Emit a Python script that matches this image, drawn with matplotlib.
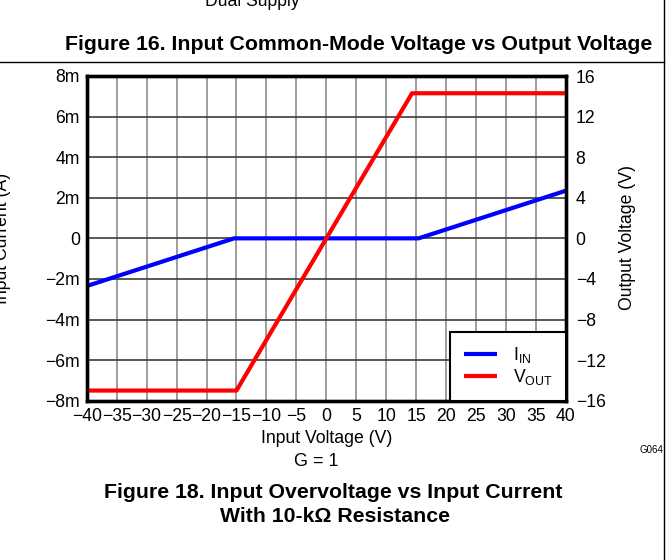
import matplotlib
matplotlib.use("Agg")
import matplotlib.pyplot as plt
from matplotlib.lines import Line2D

plt.rcParams['font.family'] = ['Liberation Sans', 'DejaVu Sans']
plt.rcParams['mathtext.fontset'] = 'custom'
plt.rcParams['mathtext.rm'] = 'Liberation Sans'
plt.rcParams['mathtext.it'] = 'Liberation Sans:italic'

# values
vin_iin = [-40, -15.4, 15.4, 40]
iin = [-2.35e-3, 0, 0, 2.35e-3]
vin_vout = [-40, -15, 14.3, 40]
vout = [-15, -15, 14.3, 14.3]

xticks = list(range(-40, 41, 5))
iticks = [-8e-3, -6e-3, -4e-3, -2e-3, 0, 2e-3, 4e-3, 6e-3, 8e-3]
ilabels = ["\u22128m", "\u22126m", "\u22124m", "\u22122m", "0", "2m", "4m", "6m", "8m"]
vticks = [-16, -12, -8, -4, 0, 4, 8, 12, 16]

W, H = 669, 560
fig = plt.figure(figsize=(W / 100, H / 100), dpi=100)
ax = fig.add_axes([86.7 / W, 1 - 400.7 / H, (566 - 86.7) / W, (400.7 - 76) / H])
ax2 = ax.twinx()

fs = 12.7
ax.plot(vin_iin, iin, color="#0000ff", lw=3, solid_capstyle="butt", label=r"I$_{\mathrm{IN}}$")
ax2.plot(vin_vout, vout, color="#ff0000", lw=3, solid_capstyle="butt", label=r"V$_{\mathrm{OUT}}$")

ax.set_xlim(-40, 40)
ax.set_ylim(-8e-3, 8e-3)
ax2.set_ylim(-16, 16)
ax.set_xticks(xticks)
ax.set_xticklabels([str(v).replace("-", "\u2212") for v in xticks])
ax.set_yticks(iticks)
ax.set_yticklabels(ilabels)
ax2.set_yticks(vticks)
ax2.set_yticklabels([str(v).replace("-", "\u2212") for v in vticks])

ax.tick_params(axis="both", length=0, labelsize=fs)
ax.tick_params(axis="x", pad=5)
ax.tick_params(axis="y", pad=5)
ax2.tick_params(axis="y", length=0, labelsize=fs, pad=7)

ax.xaxis.grid(True, color="#8c8c8c", lw=1.2)
ax.yaxis.grid(True, color="#3c3c3c", lw=1.2)
ax.set_axisbelow(True)
for a in (ax, ax2):
    for s in a.spines.values():
        s.set_linewidth(2.4)
        s.set_color("black")

ax.set_xlabel("Input Voltage (V)", fontsize=fs, labelpad=4)
fig.text(3 / W, 1 - 238 / H, "Input Current (A)", rotation=90, fontsize=fs,
         ha="center", va="center")
fig.text(627 / W, 1 - 238 / H, "Output Voltage (V)", rotation=90, fontsize=fs,
         ha="center", va="center")

h1, l1 = ax.get_legend_handles_labels()
h2, l2 = ax2.get_legend_handles_labels()
leg = ax2.legend(h1 + h2, l1 + l2, loc="lower right", borderaxespad=0,
                 fancybox=False, framealpha=1, edgecolor="black", fontsize=fs,
                 handlelength=1.9, handletextpad=0.9, labelspacing=0.12,
                 borderpad=0.75)
leg.get_frame().set_linewidth(1.5)

fig.text(252 / W, 1 - 1 / H, "Dual Supply", fontsize=fs, ha="center", va="center")
fig.text(652 / W, 1 - 45 / H, "Figure 16. Input Common-Mode Voltage vs Output Voltage",
         fontsize=15.3, fontweight="bold", ha="right", va="center")
fig.text(316 / W, 1 - 461 / H, "G = 1", fontsize=13, ha="center", va="center")
fig.text(663 / W, 1 - 450 / H, "G064", fontsize=7, ha="right", va="center")
fig.text(333 / W, 1 - 493 / H, "Figure 18. Input Overvoltage vs Input Current",
         fontsize=15.3, fontweight="bold", ha="center", va="center")
fig.text(335 / W, 1 - 517 / H, "With 10-k\u03a9 Resistance",
         fontsize=15.3, fontweight="bold", ha="center", va="center")

fig.add_artist(Line2D([0, 664 / W], [1 - 62 / H, 1 - 62 / H],
                      transform=fig.transFigure, color="black", lw=1))
fig.add_artist(Line2D([664 / W, 664 / W], [0, 1],
                      transform=fig.transFigure, color="black", lw=1))

fig.savefig("out.png", dpi=100)
